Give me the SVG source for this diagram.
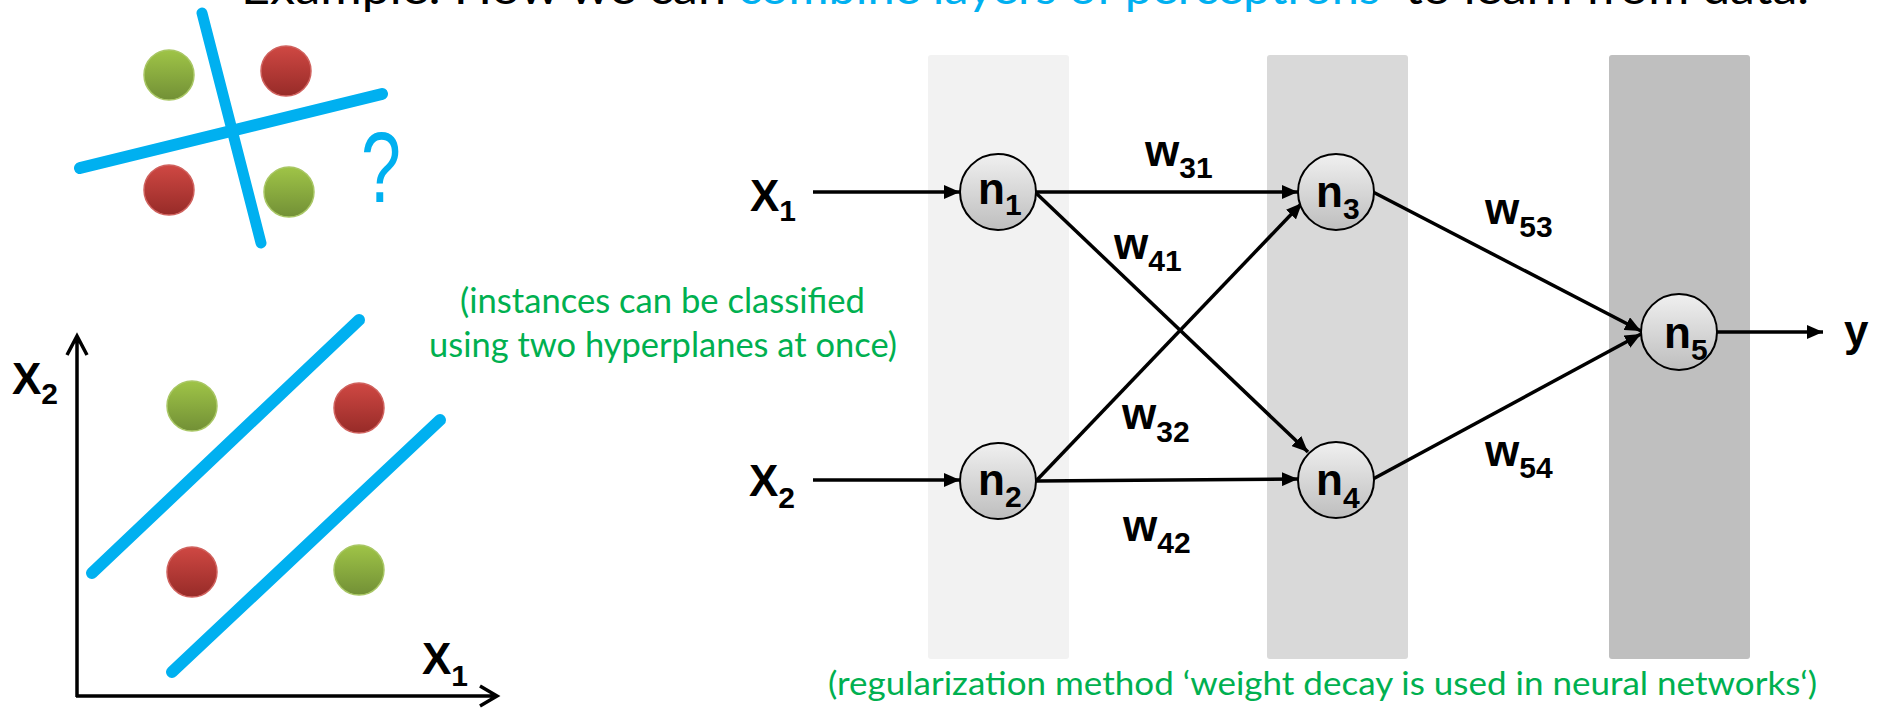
<svg xmlns="http://www.w3.org/2000/svg" width="1878" height="708" viewBox="0 0 1878 708">
<defs>
<linearGradient id="gGreen" x1="0" y1="0" x2="0" y2="1"><stop offset="0" stop-color="#9FC447"/><stop offset="1" stop-color="#729036"/></linearGradient>
<linearGradient id="gRed" x1="0" y1="0" x2="0" y2="1"><stop offset="0" stop-color="#CF4843"/><stop offset="1" stop-color="#972B28"/></linearGradient>
<linearGradient id="gNode" x1="0" y1="0" x2="0" y2="1"><stop offset="0" stop-color="#F0F0F0"/><stop offset="1" stop-color="#BEBEBE"/></linearGradient>
<marker id="arr" viewBox="0 0 16 14" refX="16" refY="7" markerWidth="16" markerHeight="14" markerUnits="userSpaceOnUse" orient="auto"><path d="M0,0 L16,7 L0,14 z" fill="#000"/></marker>
</defs>
<style>
.blue{stroke:#00B0F0;stroke-width:12;stroke-linecap:round;fill:none}
.axis{stroke:#000;stroke-width:3.5;fill:none}
.conn{stroke:#000;stroke-width:3.5;fill:none;marker-end:url(#arr)}
.node{fill:url(#gNode);stroke:#000;stroke-width:2}
.gdot{fill:url(#gGreen);stroke:#A9C765;stroke-width:1.5}
.rdot{fill:url(#gRed);stroke:#D0625E;stroke-width:1.5}
.lbl{font-family:"Liberation Sans",Arial,sans-serif;font-weight:bold;font-size:44px;fill:#000}
.sub{font-size:30px}
.green{font-family:Lato,"Open Sans",sans-serif;font-size:34px;fill:#00B050}
.title{font-family:Lato,"Open Sans",sans-serif;font-size:44px;fill:#000}
.tblue{fill:#00B0F0}
</style>

<g id="title">
<text class="title" x="241" y="4" textLength="485" lengthAdjust="spacingAndGlyphs">Example: How we can</text>
<text class="title tblue" x="738" y="4" textLength="642" lengthAdjust="spacingAndGlyphs">combine layers of perceptrons</text>
<text class="title" x="1405" y="4" textLength="404" lengthAdjust="spacingAndGlyphs">to learn from data.</text>
</g>

<g id="xor-sketch">
<circle class="gdot" cx="169" cy="75" r="25"/>
<circle class="rdot" cx="286" cy="71" r="25"/>
<circle class="rdot" cx="169" cy="190" r="25"/>
<circle class="gdot" cx="289" cy="192" r="25"/>
<line class="blue" x1="202" y1="13" x2="261" y2="243" style="stroke-width:11"/>
<line class="blue" x1="80" y1="168" x2="382" y2="94"/>
<text x="361" y="202" font-family="Liberation Sans, Arial, sans-serif" font-size="100" fill="#00B0F0" textLength="40" lengthAdjust="spacingAndGlyphs">?</text>
</g>

<g id="plot">
<path class="axis" d="M77,697 V337 M67,355 L77,336 L87,355"/>
<path class="axis" d="M76,696 H496 M480,686 L497,696 L480,706"/>
<circle class="gdot" cx="192" cy="406" r="25"/>
<circle class="rdot" cx="359" cy="408" r="25"/>
<circle class="rdot" cx="192" cy="572" r="25"/>
<circle class="gdot" cx="359" cy="570" r="25"/>
<line class="blue" x1="92" y1="573" x2="359" y2="320"/>
<line class="blue" x1="172" y1="672" x2="440" y2="420"/>
<text class="lbl" x="12" y="394">X<tspan class="sub" dy="10">2</tspan></text>
<text class="lbl" x="422" y="674">X<tspan class="sub" dy="12">1</tspan></text>
</g>

<g id="note-instances">
<text class="green" x="460" y="313" textLength="405" lengthAdjust="spacingAndGlyphs">(instances can be classified</text>
<text class="green" x="429" y="357" textLength="468" lengthAdjust="spacingAndGlyphs">using two hyperplanes at once)</text>
</g>

<g id="layers">
<rect x="928" y="55" width="141" height="604" rx="3" fill="#F2F2F2"/>
<rect x="1267" y="55" width="141" height="604" rx="3" fill="#D9D9D9"/>
<rect x="1609" y="55" width="141" height="604" rx="3" fill="#BFBFBF"/>
</g>

<g id="connectors">
<line class="conn" x1="813" y1="192" x2="960" y2="192"/>
<line class="conn" x1="813" y1="480" x2="960" y2="480"/>
<line class="conn" x1="1036" y1="192" x2="1298" y2="192"/>
<line class="conn" x1="1036" y1="481" x2="1298" y2="479"/>
<line class="conn" x1="1036" y1="193" x2="1308" y2="452"/>
<line class="conn" x1="1036" y1="481" x2="1302" y2="203"/>
<line class="conn" x1="1373" y1="192" x2="1641" y2="331"/>
<line class="conn" x1="1373" y1="479" x2="1641" y2="334"/>
<line class="conn" x1="1717" y1="332" x2="1823" y2="332"/>
</g>

<g id="input-x1"><text class="lbl" x="750" y="211">X<tspan class="sub" dy="10">1</tspan></text></g>
<g id="input-x2"><text class="lbl" x="749" y="496">X<tspan class="sub" dy="12">2</tspan></text></g>

<g id="n1"><circle class="node" cx="998" cy="192" r="38"/><text class="lbl" x="978" y="204">n<tspan class="sub" dy="11">1</tspan></text></g>
<g id="n2"><circle class="node" cx="998" cy="481" r="38"/><text class="lbl" x="978" y="495">n<tspan class="sub" dy="12">2</tspan></text></g>
<g id="n3"><circle class="node" cx="1336" cy="192" r="38"/><text class="lbl" x="1316" y="207">n<tspan class="sub" dy="12">3</tspan></text></g>
<g id="n4"><circle class="node" cx="1336" cy="480" r="38"/><text class="lbl" x="1316" y="495">n<tspan class="sub" dy="13">4</tspan></text></g>
<g id="n5"><circle class="node" cx="1679" cy="332" r="38"/><text class="lbl" x="1664" y="348">n<tspan class="sub" dy="12">5</tspan></text></g>

<g id="output-y"><text class="lbl" x="1844" y="346">y</text></g>

<g id="weights">
<text class="lbl" x="1145" y="166">w<tspan class="sub" dy="12">31</tspan></text>
<text class="lbl" x="1114" y="259">w<tspan class="sub" dy="12">41</tspan></text>
<text class="lbl" x="1122" y="429">w<tspan class="sub" dy="13">32</tspan></text>
<text class="lbl" x="1123" y="541">w<tspan class="sub" dy="12">42</tspan></text>
<text class="lbl" x="1485" y="224">w<tspan class="sub" dy="13">53</tspan></text>
<text class="lbl" x="1485" y="466">w<tspan class="sub" dy="12">54</tspan></text>
</g>

<g id="note-regularization">
<text class="green" x="828" y="695" style="font-size:32px" textLength="989" lengthAdjust="spacingAndGlyphs">(regularization method ‘weight decay is used in neural networks‘)</text>
</g>
</svg>
